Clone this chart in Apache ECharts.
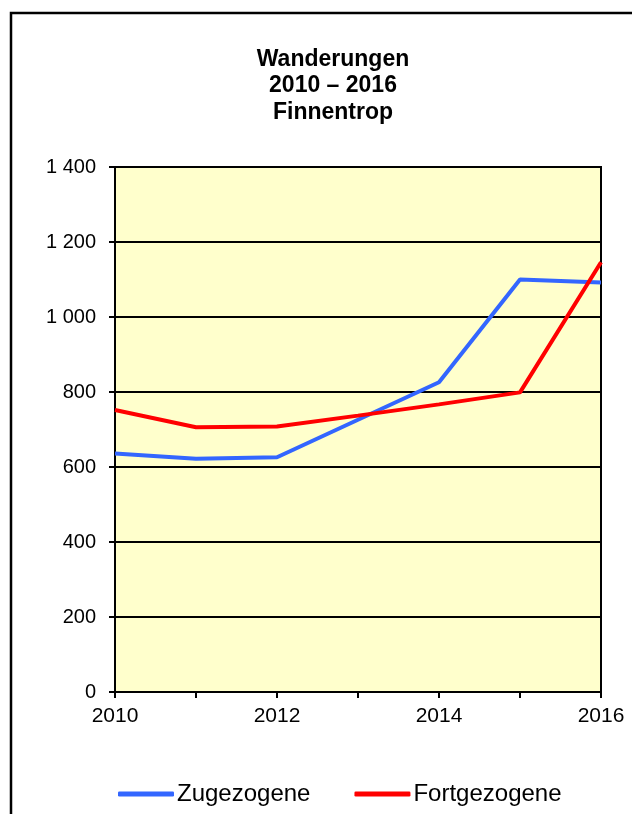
<!DOCTYPE html>
<html><head><meta charset="utf-8">
<script src="https://cdn.jsdelivr.net/npm/echarts@6/dist/echarts.min.js"></script>
<style>html,body{margin:0;padding:0;background:#fff}#c{width:632px;height:814px}</style>
</head><body><div id="c"></div>
<script>
const years = ['2010','2011','2012','2013','2014','2015','2016'];
const zugezogene = [636, 622, 626, 726, 826, 1100, 1092];
const fortgezogene = [752, 706, 708, 737, 767, 799, 1146];
const seriesNames = ['Zugezogene', 'Fortgezogene'];
const titleText = 'Wanderungen\n2010 – 2016\nFinnentrop';

const chart = echarts.init(document.getElementById('c'), null, {renderer:'canvas'});
const F = '"Liberation Sans", Arial, sans-serif';
chart.setOption({
  animation:false,
  backgroundColor:'#fff',
  graphic:[{type:'rect', shape:{x:11,y:13,width:640,height:820}, style:{fill:'none', stroke:'#000', lineWidth:2.5}, z:-1}],
  title:{text:titleText, left:333, textAlign:'center', top:46, padding:0,
    textStyle:{fontFamily:F, fontSize:23, fontWeight:'bold', color:'#000', lineHeight:26.7}},
  legend:{top:782, left:118, padding:0, itemGap:44, itemWidth:56, itemHeight:5, icon:'roundRect',
    textStyle:{fontFamily:F, fontSize:24, color:'#000', padding:[0,0,0,-2]},
    data:seriesNames},
  grid:{left:115, right:31, top:167, bottom:122, show:true, backgroundColor:'#FFFFCC', borderColor:'#000', borderWidth:2},
  xAxis:{type:'category', data:years, boundaryGap:false,
    axisLine:{lineStyle:{color:'#000', width:2}},
    axisTick:{show:true, interval:0, length:6, lineStyle:{color:'#000', width:2}},
    axisLabel:{interval:1, fontFamily:F, fontSize:21, color:'#000', margin:14},
    splitLine:{show:false}},
  yAxis:{type:'value', min:0, max:1400, interval:200,
    axisLine:{show:true, lineStyle:{color:'#000', width:2}},
    axisTick:{show:true, length:6, lineStyle:{color:'#000', width:2}},
    axisLabel:{fontFamily:F, fontSize:20, color:'#000', margin:19,
      formatter:v=>v>=1000?String(v).replace(/(\d)(\d{3})$/,'$1 $2'):String(v)},
    splitLine:{show:true, lineStyle:{color:'#000', width:2}}},
  series:[
    {name:seriesNames[0], type:'line', data:zugezogene, symbol:'none', lineStyle:{color:'#3366FF', width:4}, itemStyle:{color:'#3366FF'}},
    {name:seriesNames[1], type:'line', data:fortgezogene, symbol:'none', lineStyle:{color:'#FF0000', width:4}, itemStyle:{color:'#FF0000'}}
  ]
});
</script></body></html>
